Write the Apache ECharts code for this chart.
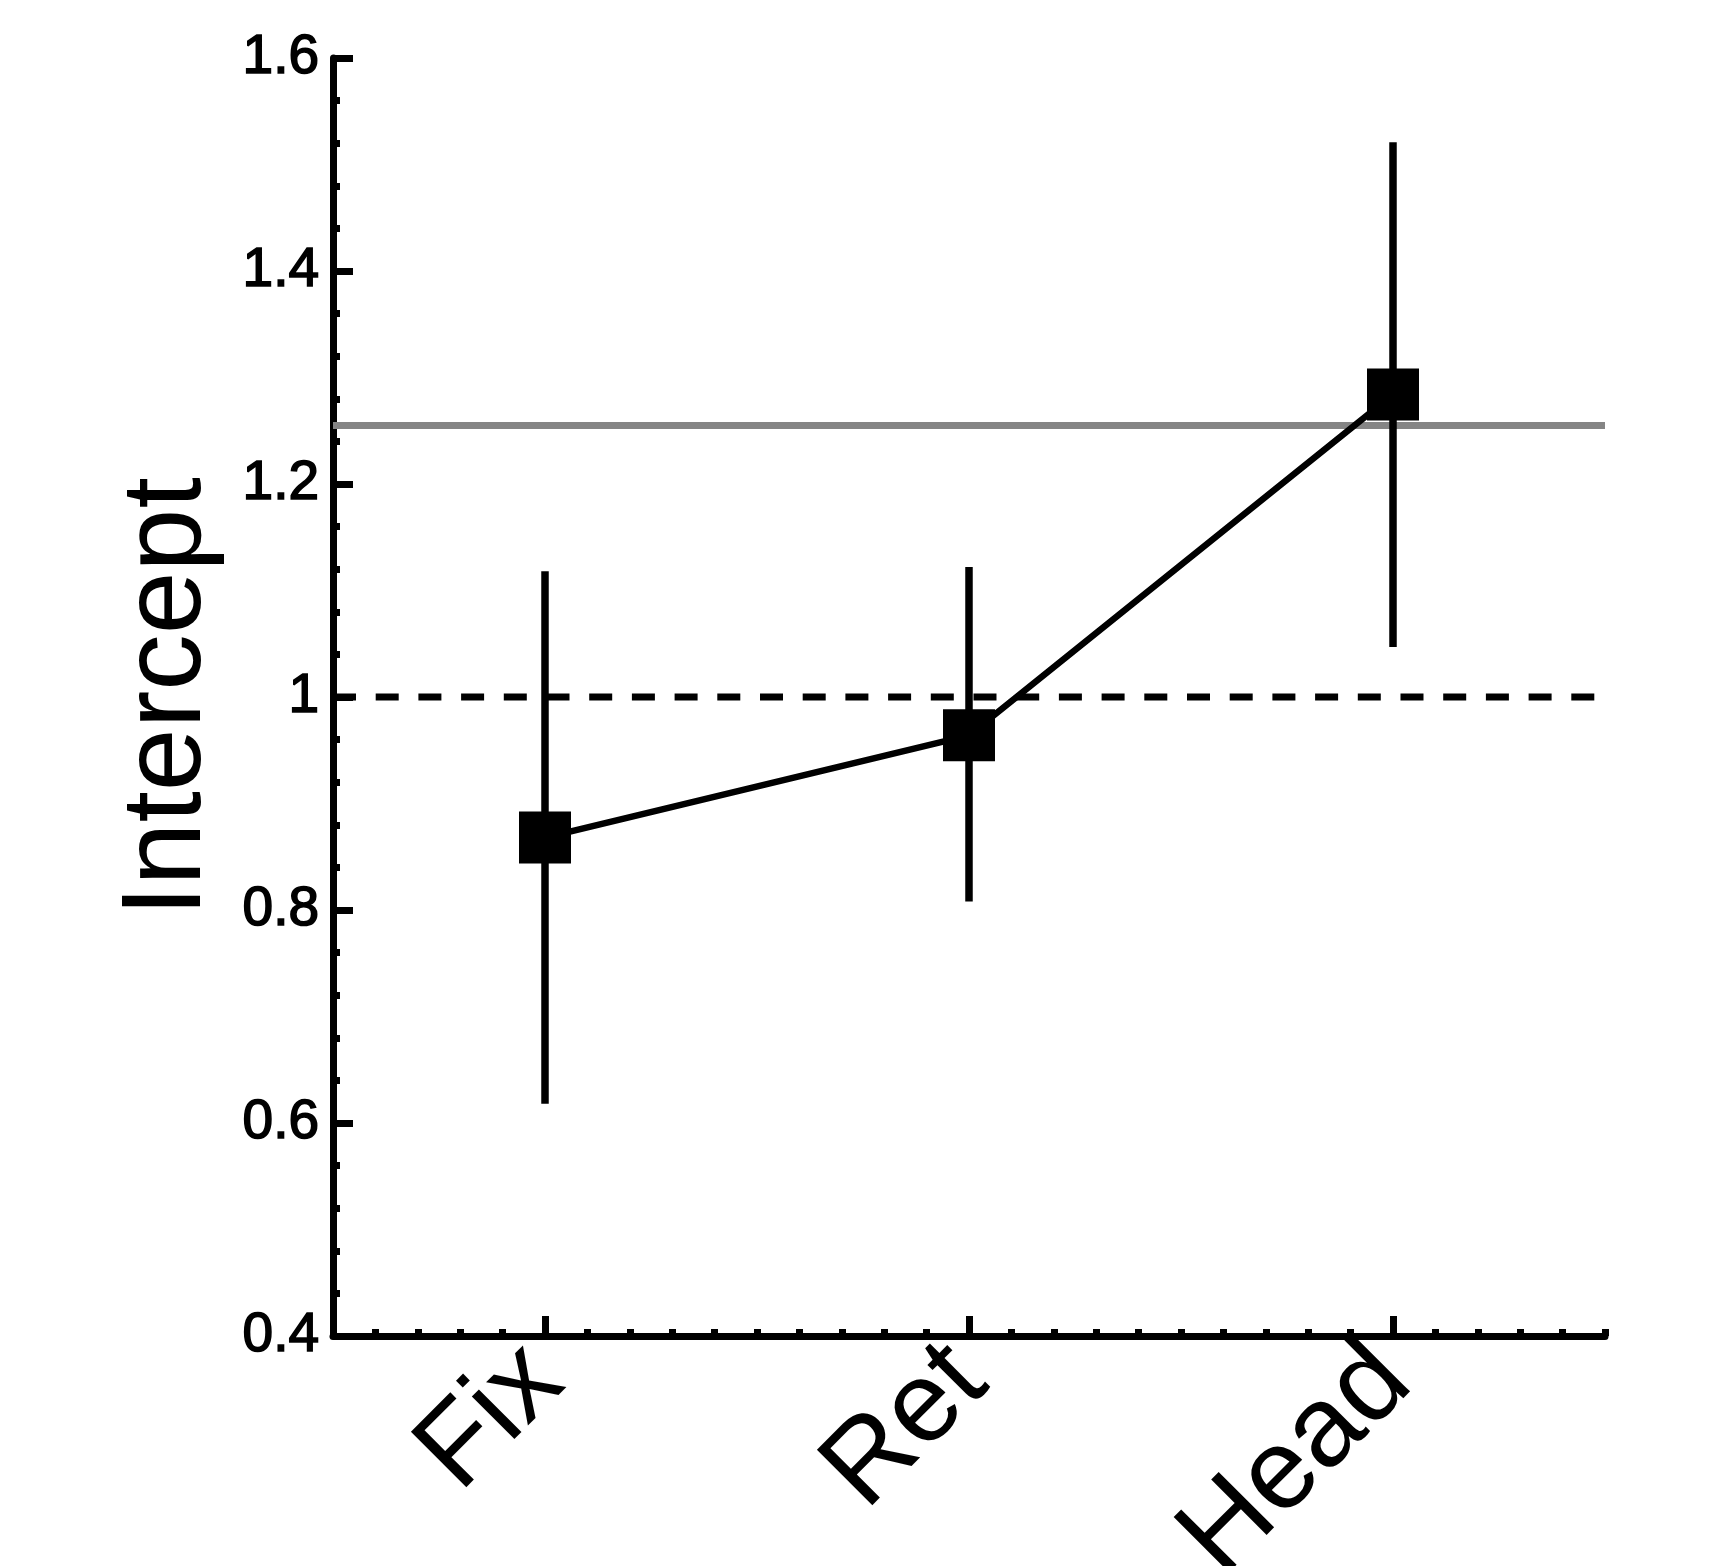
<!DOCTYPE html>
<html>
<head>
<meta charset="utf-8">
<title>Intercept by condition</title>
<script src="https://cdn.jsdelivr.net/npm/echarts@6/dist/echarts.min.js"></script>
<style>
  html, body { margin: 0; padding: 0; background: #ffffff; }
  #chart { width: 1722px; height: 1566px; }
</style>
</head>
<body>
<div id="chart"></div>
<script>
// Conditions along the x axis
const categories = ['Fix', 'Ret', 'Head'];
// Estimated intercept per condition, with lower / upper interval bounds
const intercept = [0.868, 0.964, 1.284];
const ciLow = [0.618, 0.808, 1.047];
const ciHigh = [1.118, 1.122, 1.521];
// Horizontal reference levels
const unityLevel = 1;
const greyLevel = 1.255;
// Y axis range and tick labels
const yMin = 0.4;
const yMax = 1.6;
const yStep = 0.2;
const yTickLabels = ['0.4', '0.6', '0.8', '1', '1.2', '1.4', '1.6'];

const FONT = '"Liberation Sans", Arial, Helvetica, sans-serif';
const INK = '#000000';
const LW = 7;

const chart = echarts.init(document.getElementById('chart'), null, { renderer: 'canvas' });

const errorData = categories.map((c, i) => [i, ciLow[i], ciHigh[i]]);

// reference levels: value, colour, dash pattern
const refLines = [
  [greyLevel, '#858585', null],
  [unityLevel, INK, [23, 19.7]]
];

const option = {
  animation: false,
  backgroundColor: '#ffffff',
  grid: {
    left: 333, right: 117, top: 58, bottom: 230,
    containLabel: false,
    outerBoundsMode: 'none'
  },
  xAxis: [
    {
      type: 'category',
      data: categories,
      boundaryGap: true,
      position: 'bottom',
      axisLine: { show: true, lineStyle: { color: INK, width: LW } },
      axisTick: { show: true, inside: true, alignWithLabel: true, length: 20, lineStyle: { color: INK, width: LW } },
      axisLabel: {
        show: true, rotate: 45, margin: 28, color: INK,
        fontFamily: FONT, fontSize: 114
      },
      splitLine: { show: false }
    },
    {
      // fine ticks every tenth of a category step
      type: 'value',
      min: 0.5, max: 3.5, interval: 0.1,
      position: 'bottom',
      axisLine: { show: false },
      axisTick: { show: true, inside: true, length: 7, lineStyle: { color: INK, width: LW } },
      axisLabel: { show: false },
      splitLine: { show: false }
    }
  ],
  yAxis: {
    type: 'value',
    min: yMin, max: yMax, interval: yStep,
    name: 'Intercept',
    nameLocation: 'middle',
    nameGap: 108,
    nameTextStyle: { color: INK, fontFamily: FONT, fontSize: 113 },
    axisLine: { show: true, lineStyle: { color: INK, width: LW } },
    axisTick: { show: true, inside: true, length: 20, lineStyle: { color: INK, width: LW } },
    minorTick: { show: true, splitNumber: 5, length: 7, lineStyle: { color: INK, width: LW } },
    axisLabel: {
      show: true, margin: 14, color: INK, fontFamily: FONT, fontSize: 55,
      textBorderColor: INK, textBorderWidth: 1.6,
      formatter: function (v) {
        const idx = Math.round((v - yMin) / yStep);
        return yTickLabels[idx] !== undefined ? yTickLabels[idx] : '';
      }
    },
    splitLine: { show: false },
    minorSplitLine: { show: false }
  },
  series: [
    {
      // horizontal reference levels across the whole plot width
      type: 'custom',
      z: 1,
      silent: true,
      data: refLines.map(r => [0, r[0]]),
      encode: { x: 0, y: 1 },
      renderItem: function (params, api) {
        const cs = params.coordSys;
        const y = api.coord([0, api.value(1)])[1];
        const r = refLines[params.dataIndex];
        return {
          type: 'line',
          shape: { x1: cs.x, y1: y, x2: cs.x + cs.width, y2: y },
          style: { stroke: r[1], lineWidth: LW, lineDash: r[2], lineCap: 'butt' }
        };
      }
    },
    {
      // interval bars
      type: 'custom',
      z: 3,
      silent: true,
      data: errorData,
      encode: { x: 0, y: [1, 2] },
      renderItem: function (params, api) {
        const i = api.value(0);
        const lo = api.coord([i, api.value(1)]);
        const hi = api.coord([i, api.value(2)]);
        return {
          type: 'line',
          shape: { x1: lo[0], y1: lo[1], x2: hi[0], y2: hi[1] },
          style: { stroke: INK, lineWidth: 7.5, lineCap: 'butt' }
        };
      }
    },
    {
      type: 'line',
      data: intercept,
      z: 4,
      symbol: 'rect',
      symbolSize: 52,
      showAllSymbol: true,
      lineStyle: { color: INK, width: 6.5 },
      itemStyle: { color: INK, borderWidth: 0 },
      emphasis: { disabled: true }
    }
  ]
};

chart.setOption(option);
</script>
</body>
</html>
